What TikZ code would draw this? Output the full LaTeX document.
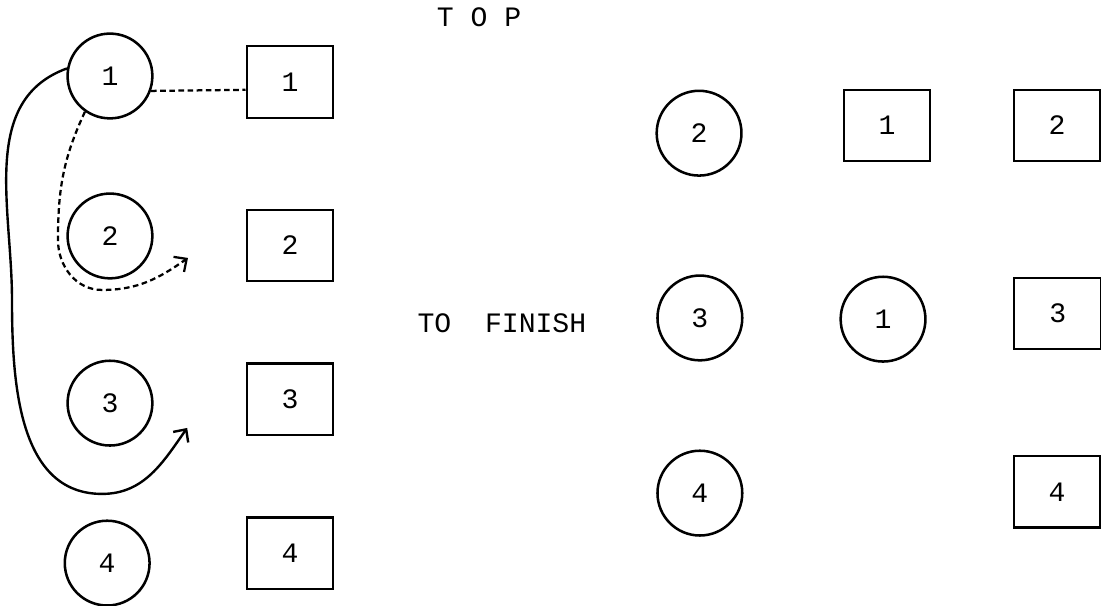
\documentclass[tikz,border=0pt]{standalone}
\usepackage{fontspec}
\newfontfamily\typer{Liberation Mono}
\usetikzlibrary{arrows.meta}
\tikzset{
  lbl/.style={font=\typer\fontsize{20}{24}\selectfont},
  disc/.style={lbl, draw, circle, line width=1.8pt, minimum size=2.12cm, inner sep=0pt},
  cell/.style={lbl, draw, rectangle, line width=1.5pt, minimum width=2.17cm, minimum height=1.78cm, inner sep=0pt},
  flow/.style={-{Straight Barb[length=2.4mm, width=4.6mm]}, line width=1.7pt},
  dflow/.style={line width=1.6pt, dash pattern=on 4pt off 2.5pt},
}
\begin{document}
\begin{tikzpicture}
    \useasboundingbox (0,0) rectangle (27.53,-15.15);
    \node[lbl] (top) at (11.98,-0.43) {T O P};
    \node[lbl] (finish) at (12.55,-8.08) {TO\ \ FINISH};
    % starting set
    \node[disc] (lc1) at (2.75,-1.90) {1};
    \node[disc] (lc2) at (2.75,-5.90) {2};
    \node[disc] (lc3) at (2.75,-10.08) {3};
    \node[disc] (lc4) at (2.68,-14.08) {4};
    \node[cell] (ls1) at (7.25,-2.05) {1};
    \node[cell] (ls2) at (7.25,-6.13) {2};
    \node[cell] (ls3) at (7.25,-9.98) {3};
    \node[cell] (ls4) at (7.25,-13.83) {4};
    % finishing set
    \node[disc] (rc2) at (17.48,-3.33) {2};
    \node[cell] (rs1) at (22.18,-3.13) {1};
    \node[cell] (rs2) at (26.43,-3.13) {2};
    \node[disc] (rc3) at (17.50,-7.95) {3};
    \node[disc] (rc1) at (22.08,-7.98) {1};
    \node[cell] (rs3) at (26.45,-7.83) {3};
    \node[disc] (rc4) at (17.50,-12.33) {4};
    \node[cell] (rs4) at (26.43,-12.30) {4};
    % moves
    \coordinate (dtip) at (4.70,-6.45);
    \coordinate (stip) at (4.68,-10.70);
    \draw[dflow] (lc1.-20) -- (ls1.-170);
    \draw[dflow, -{Straight Barb[length=2.4mm, width=4.6mm]}] (lc1.235) to[out=245, in=90] (1.45,-6.00)
      to[out=270, in=180] (2.55,-7.25) to[out=0, in=215] (dtip);
    \draw[flow] (lc1.170) to[out=200, in=90] (0.30,-7.50)
      to[out=270, in=180] (2.55,-12.35) to[out=0, in=235] (stip);
\end{tikzpicture}
\end{document}
